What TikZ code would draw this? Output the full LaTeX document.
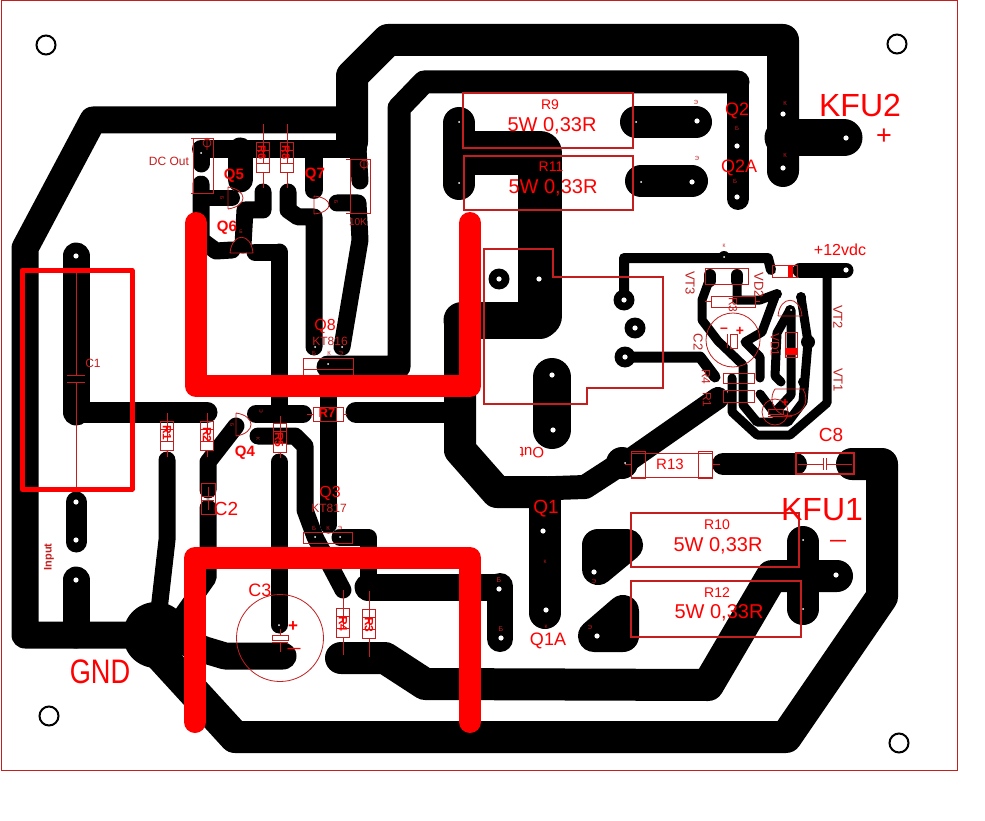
\documentclass[tikz,border=0pt]{standalone}
\usepackage{fontspec}
\setmainfont{Liberation Sans}
\definecolor{cu}{HTML}{000000}
\definecolor{ink}{HTML}{C41E1E}
\definecolor{hotred}{HTML}{FF0000}
\newcounter{lb}
% \lab[node options]{x}{y}{size}{text}
\newcommand{\lab}[5][]{\stepcounter{lb}\node[textlab,#1] (lab\thelb) at (#2,#3) {\fontsize{#4}{#4}\selectfont #5};}
% vertical resistor: x, ytopbox, ybotbox, ylead1, ylead2, half width
\newcommand{\vres}[5]{%
  \draw[fine] (#1,#4) -- (#1,#5);
  \draw[fine] (#1-6.5,#2) rectangle (#1+6.5,#3);
  \draw[fine,fill=white] (#1-6.5,#3-9) rectangle (#1+6.5,#3);
  \draw[fine] (#1-6.5,#2) rectangle (#1+6.5,#2+8);}
\tikzset{
  textlab/.style={text=hotred,inner sep=0pt,outer sep=0pt},
  tr/.style={draw=cu,line width=#1,line cap=round,line join=round},
  fine/.style={draw=ink,line width=0.8pt},
  pkg/.style={draw=ink,line width=1.2pt},
  hole/.style={fill=white,draw=none},
  ring/.style={draw=black,line width=2pt},
  heavy/.style={draw=hotred,line width=22pt,line cap=round,line join=round},
  frame/.style={draw=hotred,line width=5pt,line join=round}
}
\begin{document}
\begin{tikzpicture}[x=1pt,y=-1pt]
\useasboundingbox (0,0) rectangle (985,821);
\fill[white] (0,0) rectangle (985,821);
\draw[draw=ink,line width=1pt] (1.5,1) rectangle (957,770.5);
% mount holes
\foreach \p in {(46,45),(897,44),(49,716),(899,743)} \draw[ring] \p circle (9.5);

% ---- copper ----
% top rail
\draw[tr=32pt] (352,142) -- (352,76) -- (388,40) -- (783,40) -- (783,171);
\draw[tr=37pt] (783,138) -- (844,138);
% second rail
\draw[tr=23pt] (328,367) -- (399,367) -- (399,108) -- (424,82) -- (738,82);
\draw[tr=22pt] (738,82) -- (738,199);
% ground outline
\draw[tr=27pt] (352,120) -- (93,120) -- (25,248) -- (25,635) -- (150,635);
% GND pad
\fill[cu] (156,635) circle (33);
% input pads
\draw[tr=27pt] (76,256) -- (76,412);
\draw[tr=21pt] (76,412) -- (207,412);
\draw[tr=21pt] (76,502) -- (76,542);
\draw[tr=27pt] (76,580) -- (76,635);
% R1, R2, C2 to GND
\draw[tr=17pt] (167,460) -- (167,540) -- (159,610) -- (156,630);
\draw[tr=17pt] (208,490) -- (208,462) -- (236,426);
\draw[tr=17pt] (208,508) -- (208,578) -- (170,632);
% Q4 and R5
\draw[tr=18pt] (256,414) -- (303,414);
\draw[tr=17pt] (258,436) -- (295,436) -- (305,446) -- (305,510) -- (315,537) -- (343,590);
\draw[tr=17pt] (279,462) -- (279,625);
\draw[tr=17pt] (279,252) -- (279,410);
\draw[tr=17pt] (255,252) -- (279,252);
% C3 return
\draw[tr=27pt] (160,632) -- (205,650) -- (225,656) -- (283,656);
% bottom outer rail
\draw[tr=32pt] (160,655) -- (235,737) -- (786,737) -- (882,597) -- (882,464) -- (852,464);
% inner power rail
\draw[tr=32pt] (341,658) -- (385,658) -- (425,684) -- (708,685) -- (772,576) -- (837,576);
\draw[tr=32pt] (803,542) -- (803,609);
% Q3 right
\draw[tr=17pt] (340,537) -- (368,537) -- (368,587);
\draw[tr=27pt] (368,587) -- (497,587);
\draw[tr=26pt] (500,586) -- (500,639);
\draw[tr=17pt] (328,368) -- (328,525);
% DC Out group
\draw[tr=17pt] (201,149) -- (201,164);
\draw[tr=18pt] (201,149) -- (358,149);
\draw[tr=17pt] (358,149) -- (360,181);
\draw[tr=25pt] (240,150) -- (240,180);
\draw[tr=18pt] (314,150) -- (314,190);
\draw[tr=17pt] (201,184) -- (201,240) -- (216,251) -- (232,250);
\draw[tr=16pt] (201,198) -- (232,198);
\draw[tr=17pt] (263,192) -- (263,210) -- (245,210) -- (243,245);
\draw[tr=17pt] (288,192) -- (288,210) -- (298,217) -- (314,217) -- (314,347);
\draw[tr=17pt] (337,203) -- (358,203) -- (360,240) -- (342,347);
% power resistor pads
\draw[tr=32pt] (459,123) -- (459,184);
\draw[tr=44pt] (470,153) -- (540,153) -- (540,316);
\draw[tr=37pt] (462,320) -- (540,320);
\draw[tr=32pt] (460,320) -- (460,450) -- (497,492) -- (545,492);
\draw[tr=32pt] (545,500) -- (545,613);
\draw[tr=24pt] (497,490) -- (585,487) -- (622,463);
\fill[cu] (622,463) circle (16);
\draw[tr=22pt] (625,463) -- (718,398);
\draw[tr=21pt] (356,412) -- (460,412);
\draw[tr=32pt] (636,122) -- (696,122);
\draw[tr=32pt] (641,181) -- (692,181);
\draw[tr=38pt] (552,377) -- (552,430);
\draw[tr=32pt] (598,545) -- (627,545) -- (598,569) -- cycle;
\fill[cu] (598,545) -- (627,545) -- (598,569) -- cycle;
\draw[tr=32pt] (623,611) -- (623,636) -- (594,636) -- cycle;
\fill[cu] (623,611) -- (623,636) -- (594,636) -- cycle;
\draw[tr=22pt] (723,464) -- (796,464);
% Out-side rings
\foreach \p in {(499,279),(624,300),(635,328),(625,357)} \fill[cu] \p circle (10.5);
\fill[cu] (539,279) circle (8);
% regulator block
\draw[tr=10pt] (624,300) -- (624,258) -- (768,258) -- (771,270);
\fill[cu] (724,257) circle (6);
\draw[tr=15pt] (800,270) -- (846,270);
\draw[tr=9pt] (827,273) -- (827,403) -- (790,435) -- (757,435) -- (732,412) -- (732,378);
\draw[tr=11pt] (624,357) -- (700,357) -- (715,377);
\draw[tr=9pt] (710,278) -- (702,300) -- (702,320) -- (718,341) -- (743,365) -- (743,405) -- (757,422) -- (788,422) -- (803,402) -- (808,342) -- (801,297);
\fill[cu] (808,342) circle (7);
\draw[tr=9pt] (737,278) -- (737,300) -- (760,300) -- (776,294) -- (762,332) -- (745,342) -- (760,357) -- (760,378);
\draw[tr=9pt] (781,382) -- (775,376) -- (777,333) -- (790,310);
\draw[tr=9pt] (791,310) -- (791,395) -- (777,410);
\draw[tr=9pt] (760,394) -- (775,414) -- (786,415);
\draw[tr=12pt] (710,275) -- (710,281);
\draw[tr=12pt] (737,275) -- (737,281);
\fill[cu] (777,294) circle (5);
\fill[cu] (801,297) circle (5);
\fill[cu] (790,310) circle (5);
\fill[cu] (803,382) circle (5);

% ---- drill holes ----
\foreach \p in {(697,121),(692,182),(737,146),(737,197),(783,114),(783,168),(846,138),
  (543,531),(546,610),(594,572),(597,636),(836,575),
  (76,256),(76,502),(76,540),(76,580),(552,375),(553,430),(539,279),
  (499,279),(624,300),(635,328),(625,357),(499,589),(501,638),(846,270)}
  \fill[hole] \p circle (2.6);
\foreach \p in {(459,122),(459,183),(636,122),(641,182),(803,540),(803,609),(315,347),(342,347),
  (201,175),(201,153),(328,364),(315,537),(340,537),(279,625),(625,463),(724,257),(791,310)}
  \fill[hole] \p circle (1);

% ---- component outlines ----
\draw[pkg] (463,93) rectangle (633,148);
\draw[pkg] (464,156) rectangle (633,210);
\draw[pkg] (631,513) rectangle (799,567);
\draw[pkg] (631,581) rectangle (801,637);
% R13
\draw[fine] (631,453) rectangle (712,477);
\draw[fine] (631,451) rectangle (645,478);
\draw[fine] (698,451) rectangle (712,478);
\draw[fine] (625,464) -- (631,464) (712,464) -- (720,464);
% C8
\draw[pkg] (796,453) rectangle (854,474);
\draw[fine] (798,464) -- (823,464) (826,464) -- (852,464) (823,458) -- (823,470) (826,458) -- (826,470);
% Out connector
\draw[draw=ink,line width=1.5pt] (484,249) -- (553,249) -- (553,277) -- (663,277) -- (663,388) -- (587,388) -- (587,404) -- (484,404) -- cycle;
% DC Out, 10K
\draw[fine] (193,138) rectangle (213,193) (191,138) -- (193,138) (191,193) -- (193,193);
\draw[fine] (207,143) circle (4) (207,138) -- (207,150);
\draw[fine] (350,159) rectangle (370,213) (346,159) -- (350,159) (346,213) -- (350,213);
\draw[fine] (364,164) circle (4) (364,159) -- (364,170);
% axial resistors
\vres{263}{142}{172}{124}{188}
\vres{287}{142}{172}{124}{188}
\vres{167}{421}{450}{413}{457}
\vres{207}{421}{450}{413}{457}
\vres{280}{423}{452}{416}{458}
\vres{343}{608}{637}{590}{655}
\vres{369}{609}{638}{591}{657}
\draw[fine] (313,407) rectangle (343,421) (320,407) -- (320,421) (336,407) -- (336,421) (307,414) -- (313,414) (343,414) -- (347,414);
% C1, C2
\draw[fine] (76,273) -- (76,375) (67,375) -- (85,375) (67,382) -- (85,382) (76,382) -- (76,489);
\draw[fine] (201,483) rectangle (215,514) (208,487) -- (208,496) (202,496) -- (214,496) (202,500) -- (214,500) (208,500) -- (208,510);
% C3
\draw[fine] (280,638) circle (43.5);
\draw[fine] (272,635) rectangle (288,640) (272,642) -- (288,642) (280,629) -- (280,635) (280,642) -- (280,652);
% transistors
\draw[fine] (303,358) rectangle (353,375) (303,369) -- (353,369);
\draw[fine] (303,532) rectangle (352,543) (303,543) -- (352,543);
\draw[fine] (228,187) -- (228,209) (228,187) .. controls (248,190) and (248,206) .. (228,209);
\draw[fine] (314,196) -- (314,214) (314,196) .. controls (334,198) and (334,212) .. (314,214);
\draw[fine] (230,253) -- (253,253) (230,253) .. controls (232,232) and (251,232) .. (253,253);
\draw[fine] (236,413) -- (236,436) (236,413) .. controls (256,416) and (256,433) .. (236,436);
% regulator parts
\draw[fine] (705,268) rectangle (748,284);
\draw[fine] (711,296) rectangle (755,307) (705,301) -- (711,301) (755,301) -- (760,301);
\draw[fine] (733,340) circle (27);
\draw[fine] (730,334) rectangle (737,348) (727,334) -- (727,348);
\draw[fine] (772,265) rectangle (797,277);
\fill[hotred] (788,265) rectangle (793,277);
\draw[fine] (778,316) -- (802,316) (778,316) .. controls (780,295) and (800,295) .. (802,316);
\draw[fine] (785,332) rectangle (797,357);
\fill[hotred] (785,348) rectangle (797,355);
\draw[fine] (775,389) -- (805,389) (775,389) arc[start angle=215,end angle=-35,radius=17];
\draw[fine] (723,373) rectangle (754,383);
\draw[fine] (723,390) rectangle (754,402);
\draw[fine] (775,412) circle (13);
\draw[fine] (768,409) rectangle (783,414) (768,416) -- (783,416);

% ---- heavy red overlays ----
\draw[frame] (22,270.5) rectangle (132,489);
\draw[heavy] (196,223) -- (196,386) -- (470,386) -- (470,223);
\draw[heavy] (195,722) -- (195,558) -- (470,558) -- (470,722);

% ---- labels ----
\lab{860}{105}{32}{KFU2}
\lab{884}{137}{27}{+}
\lab{822}{510}{32}{KFU1}
\lab{838}{543}{16}{\bfseries —}
\lab[xscale=.8,transform shape]{100}{672}{34}{GND}
\lab{546}{509}{19}{Q1}
\lab{548}{641}{18}{Q1A}
\lab{737}{111}{18}{Q2}
\lab{739}{168}{18}{Q2A}
\lab{234}{176}{15}{\bfseries Q5}
\lab{227}{228}{15}{\bfseries Q6}
\lab{315}{175}{15}{\bfseries Q7}
\lab{245}{453}{15}{\bfseries Q4}
\lab{330}{493}{16}{Q3}
\lab{325}{326}{16}{Q8}
\lab[text=ink]{330}{341}{12}{KT816}
\lab[text=ink]{329}{508}{12}{KT817}
\lab{226}{509}{19}{C2}
\lab{260}{590}{18}{C3}
\lab{831}{435}{19}{C8}
\lab{840}{250}{16}{+12vdc}
\lab{550}{105}{14}{R9}
\lab{552}{126}{20}{5W 0,33R}
\lab{551}{167}{14}{R11}
\lab{553}{188}{20}{5W 0,33R}
\lab{670}{464}{15}{R13}
\lab{717}{525}{14}{R10}
\lab{718}{546}{20}{5W 0,33R}
\lab{717}{593}{14}{R12}
\lab{719}{613}{20}{5W 0,33R}
\lab[rotate=180]{532}{453}{15}{Out}
\lab[rotate=90,text=ink]{49}{557}{11}{\bfseries Input}
\lab[text=ink]{169}{161}{12}{DC Out}
\lab[text=ink]{358}{222}{10}{10K}
\lab[text=ink]{93}{363}{12}{C1}
\lab[rotate=-90,text=ink]{690}{283}{13}{VT3}
\lab[rotate=-90,text=ink]{759}{285}{13}{VD2}
\lab[rotate=-90,text=ink]{838}{317}{13}{VT2}
\lab[rotate=-90,text=ink]{838}{380}{13}{VT1}
\lab[rotate=-90,text=ink]{698}{342}{13}{C2}
\lab[rotate=-90,text=ink]{706}{377}{12}{R4}
\lab[rotate=-90,text=ink]{707}{400}{12}{R1}
\lab[rotate=-90,text=ink]{733}{305}{12}{R3}
\lab[rotate=-90,text=ink]{775}{345}{12}{VD1}
\lab[rotate=-90]{167}{433}{12}{\bfseries R1}
\lab[rotate=-90]{207}{435}{12}{\bfseries R2}
\lab[rotate=-90]{279}{440}{12}{\bfseries R5}
\lab{327}{413}{13}{\bfseries R7}
\lab[rotate=-90]{262}{153}{11}{\bfseries R6}
\lab[rotate=-90]{286}{153}{11}{\bfseries R8}
\lab[rotate=-90]{343}{624}{12}{\bfseries R4}
\lab[rotate=-90]{369}{625}{12}{\bfseries R3}
\lab{724}{330}{14}{\bfseries –}
\lab{740}{331}{14}{\bfseries +}
\lab{293}{627}{17}{\bfseries +}
\lab{294}{650}{13}{\bfseries —}
\lab{785}{403}{12}{\bfseries +}
\lab{787}{418}{10}{\bfseries —}
% pin letters
\lab[text=ink]{696}{102}{6}{Э}
\lab[text=ink]{697}{158}{6}{Э}
\lab[text=ink]{737}{128}{6}{Б}
\lab[text=ink]{735}{181}{6}{Б}
\lab[text=ink]{785}{103}{6}{К}
\lab[text=ink]{785}{155}{6}{К}
\lab[text=ink]{545}{562}{5}{К}
\lab[text=ink]{546}{627}{5}{К}
\lab[text=ink]{594}{581}{6}{Э}
\lab[text=ink]{590}{627}{6}{Э}
\lab[text=ink]{499}{580}{7}{Б}
\lab[text=ink]{501}{629}{7}{Б}
\lab[text=ink]{314}{353}{6}{Б}
\lab[text=ink]{329}{353}{6}{К}
\lab[text=ink]{341}{353}{6}{Э}
\lab[text=ink]{314}{528}{6}{Б}
\lab[text=ink]{328}{528}{6}{К}
\lab[text=ink]{340}{528}{6}{Э}
\lab[text=ink,rotate=-90]{222}{198}{5}{Б}
\lab[text=ink]{241}{232}{5}{Б}
\lab[text=ink,rotate=-90]{336}{202}{5}{Б}
\lab[text=ink,rotate=-90]{232}{425}{5}{Б}
\lab[text=ink,rotate=-90]{261}{411}{5}{Э}
\lab[text=ink,rotate=-90]{258}{439}{5}{К}
\lab[text=ink]{724}{246}{5}{К}
\end{tikzpicture}
\end{document}
